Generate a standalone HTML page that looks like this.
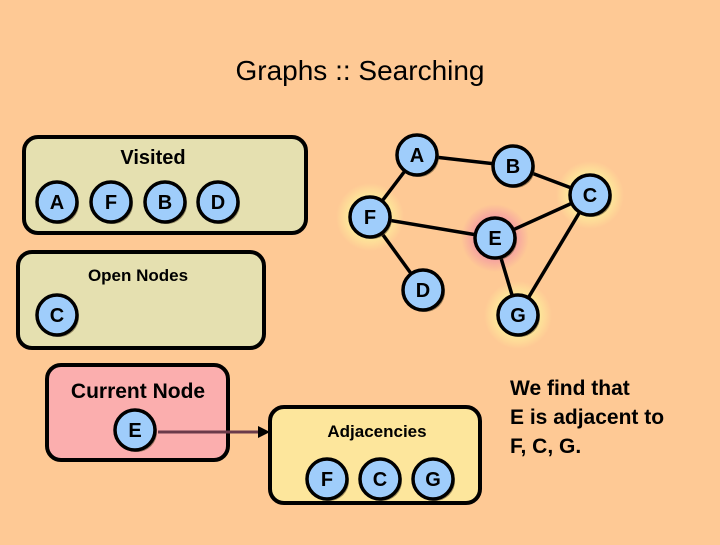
<!DOCTYPE html>
<html><head><style>
body{margin:0;background:#fec995;}
svg text{font-family:"Liberation Sans",sans-serif;font-weight:bold;}
</style></head><body>
<svg width="720" height="540" viewBox="0 0 720 540" xmlns="http://www.w3.org/2000/svg">
<defs>
<radialGradient id="hy"><stop offset="0.6" stop-color="#fde89a"/><stop offset="1" stop-color="#fde89a" stop-opacity="0"/></radialGradient>
<radialGradient id="hp"><stop offset="0.6" stop-color="#f5a0a0"/><stop offset="1" stop-color="#f5a0a0" stop-opacity="0"/></radialGradient>
<g id="n"><circle cx="2" cy="2" r="20" fill="#5a4a2a" opacity="0.6"/><circle r="20" fill="#9fcdfb" stroke="#000" stroke-width="3.5"/></g>
</defs>
<rect width="720" height="540" fill="#fec995"/>
<text x="360" y="80" font-size="28" text-anchor="middle" font-weight="normal" style="font-weight:normal">Graphs :: Searching</text>

<rect x="24" y="137" width="282" height="96" rx="14" fill="#e5e0b0" stroke="#000" stroke-width="4"/>
<text x="153" y="164" font-size="20" text-anchor="middle">Visited</text>
<rect x="18" y="252" width="246" height="96" rx="14" fill="#e5e0b0" stroke="#000" stroke-width="4"/>
<text x="138" y="281" font-size="17" text-anchor="middle">Open Nodes</text>
<rect x="47" y="365" width="181" height="95" rx="14" fill="#fbaeae" stroke="#000" stroke-width="4"/>
<text x="138" y="398" font-size="21" text-anchor="middle">Current Node</text>
<rect x="270" y="407" width="210" height="96" rx="14" fill="#fde69c" stroke="#000" stroke-width="4"/>
<text x="377" y="437" font-size="17" text-anchor="middle">Adjacencies</text>

<line x1="158" y1="432" x2="262" y2="432" stroke="#6a3a4a" stroke-width="3"/>
<polygon points="270,432 258,426 258,438" fill="#000"/>

<circle cx="370" cy="217" r="34" fill="url(#hy)"/>
<circle cx="590" cy="195" r="34" fill="url(#hy)"/>
<circle cx="518" cy="315" r="34" fill="url(#hy)"/>
<circle cx="495" cy="238" r="34" fill="url(#hp)"/>
<g stroke="#000" stroke-width="3.5">
<line x1="417" y1="155" x2="513" y2="166"/>
<line x1="513" y1="166" x2="590" y2="195"/>
<line x1="417" y1="155" x2="370" y2="217"/>
<line x1="370" y1="217" x2="495" y2="238"/>
<line x1="370" y1="217" x2="423" y2="290"/>
<line x1="495" y1="238" x2="590" y2="195"/>
<line x1="495" y1="238" x2="518" y2="315"/>
<line x1="590" y1="195" x2="518" y2="315"/>
</g>
<g font-size="20" text-anchor="middle">
<use href="#n" x="417" y="155"/><text x="417" y="162">A</text>
<use href="#n" x="513" y="166"/><text x="513" y="173">B</text>
<use href="#n" x="590" y="195"/><text x="590" y="202">C</text>
<use href="#n" x="370" y="217"/><text x="370" y="224">F</text>
<use href="#n" x="495" y="238"/><text x="495" y="245">E</text>
<use href="#n" x="423" y="290"/><text x="423" y="297">D</text>
<use href="#n" x="518" y="315"/><text x="518" y="322">G</text>
<use href="#n" x="57" y="202"/><text x="57" y="209">A</text>
<use href="#n" x="111" y="202"/><text x="111" y="209">F</text>
<use href="#n" x="165" y="202"/><text x="165" y="209">B</text>
<use href="#n" x="218" y="202"/><text x="218" y="209">D</text>
<use href="#n" x="57" y="315"/><text x="57" y="322">C</text>
<use href="#n" x="135" y="430"/><text x="135" y="437">E</text>
<use href="#n" x="327" y="479"/><text x="327" y="486">F</text>
<use href="#n" x="380" y="479"/><text x="380" y="486">C</text>
<use href="#n" x="433" y="479"/><text x="433" y="486">G</text>
</g>
<g font-size="21">
<text x="510" y="395">We find that</text>
<text x="510" y="424">E is adjacent to</text>
<text x="510" y="453">F, C, G.</text>
</g>
</svg>
</body></html>
